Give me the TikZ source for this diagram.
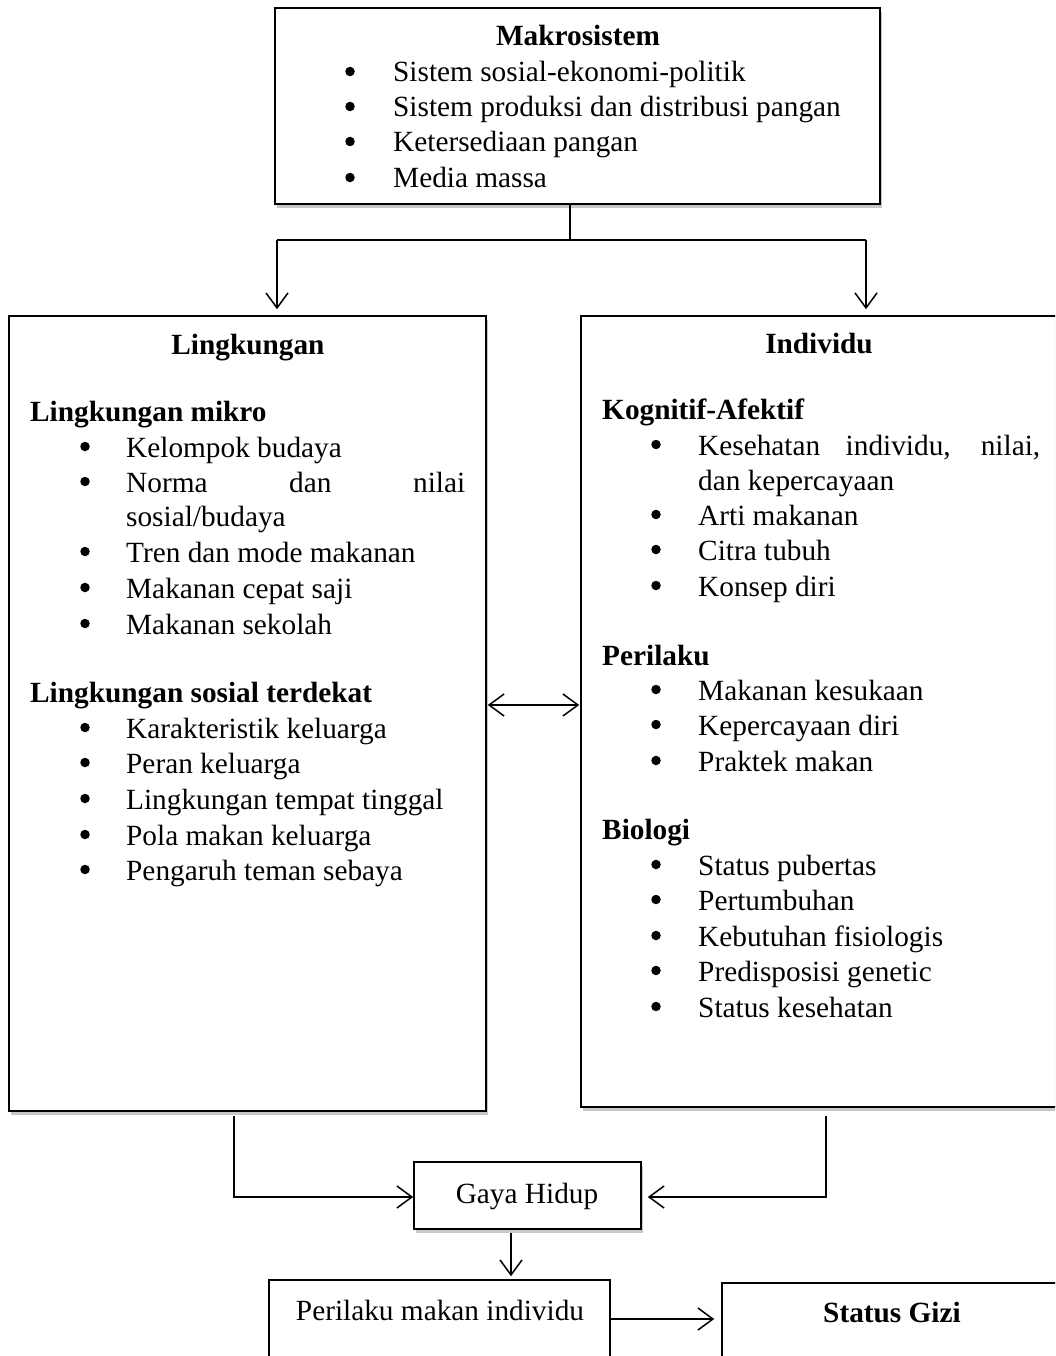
\documentclass[tikz,border=0pt]{standalone}
\usepackage{fontspec}
\setmainfont{Liberation Serif}
\usetikzlibrary{arrows.meta,shadows}
\tikzset{
  box/.style={draw, line width=1.6pt, fill=white, inner sep=0pt,
    drop shadow={shadow xshift=2pt, shadow yshift=-4pt, fill=black!22, opacity=1}},
  plainbox/.style={draw, line width=1.6pt, fill=white, inner sep=0pt},
  txt/.style={inner sep=0pt, anchor=base west, font=\fontsize{29.3}{35}\selectfont},
  ctxt/.style={inner sep=0pt, anchor=base, font=\fontsize{29.3}{35}\selectfont},
  bul/.style={circle, fill=black, inner sep=0pt, minimum size=9.5pt},
  hd/.style={txt, font=\fontsize{29.3}{35}\selectfont\bfseries},
  chd/.style={ctxt, font=\fontsize{29.3}{35}\selectfont\bfseries},
  con/.style={line width=1.5pt},
  arr/.style={con, -{Straight Barb[length=15pt,width=22pt,line width=1.5pt]}},
  darr/.style={con, {Straight Barb[length=15pt,width=22pt,line width=1.5pt]}-{Straight Barb[length=15pt,width=22pt,line width=1.5pt]}}
}
\newcommand\itm[5]{%
  \node[bul] (#1b) at ({#2},{#4-10.5}) {};
  \node[txt] (#1) at (#3,#4) {#5};}
\begin{document}
\begin{tikzpicture}[x=1pt,y=-1pt]
\clip (0,0) rectangle (1055,1356);
\fill[white] (0,0) rectangle (1055,1356);
% boxes
\node[box, minimum width=605pt, minimum height=196pt] (makro) at (577.5,106) {};
\node[box, minimum width=477pt, minimum height=795pt] (ling) at (247.5,713.5) {};
\node[box, minimum width=489pt, minimum height=791pt] (indiv) at (825.5,711.5) {};
\node[box, minimum width=227pt, minimum height=67pt] (gaya) at (527.5,1195.5) {};
\node[plainbox, minimum width=341pt, minimum height=100pt] (peril) at (439.5,1330) {};
\node[plainbox, minimum width=358pt, minimum height=107pt] (gizi) at (901,1336.5) {};

% Makrosistem text
\node[chd] (mk) at (578,46) {Makrosistem};
\itm{m1}{350}{393}{82}{Sistem sosial-ekonomi-politik}
\itm{m2}{350}{393}{117}{Sistem produksi dan distribusi pangan}
\itm{m3}{350}{393}{152}{Ketersediaan pangan}
\itm{m4}{350}{393}{188}{Media massa}

% Lingkungan text
\node[chd] (lt) at (248,354) {Lingkungan};
\node[hd] (lh1) at (30,421) {Lingkungan mikro};
\itm{l1}{85}{126}{457}{Kelompok budaya}
\itm{l2}{85}{126}{492}{\makebox[339pt][s]{Norma dan nilai}}
\node[txt] (l2b2) at (126,526) {sosial/budaya};
\itm{l3}{85}{126}{562}{Tren dan mode makanan}
\itm{l4}{85}{126}{598}{Makanan cepat saji}
\itm{l5}{85}{126}{634}{Makanan sekolah}
\node[hd] (lh2) at (30,702) {Lingkungan sosial terdekat};
\itm{l6}{85}{126}{738}{Karakteristik keluarga}
\itm{l7}{85}{126}{773}{Peran keluarga}
\itm{l8}{85}{126}{809}{Lingkungan tempat tinggal}
\itm{l9}{85}{126}{845}{Pola makan keluarga}
\itm{l10}{85}{126}{880}{Pengaruh teman sebaya}

% Individu text
\node[chd] (it) at (819,353) {Individu};
\node[hd] (ih1) at (602,419) {Kognitif-Afektif};
\itm{i1}{656}{698}{455}{\makebox[342pt][s]{Kesehatan individu, nilai,}}
\node[txt] (i1c) at (698,490) {dan kepercayaan};
\itm{i2}{656}{698}{525}{Arti makanan}
\itm{i3}{656}{698}{560}{Citra tubuh}
\itm{i4}{656}{698}{596}{Konsep diri}
\node[hd] (ih2) at (602,665) {Perilaku};
\itm{i5}{656}{698}{700}{Makanan kesukaan}
\itm{i6}{656}{698}{735}{Kepercayaan diri}
\itm{i7}{656}{698}{771}{Praktek makan}
\node[hd] (ih3) at (602,839) {Biologi};
\itm{i8}{656}{698}{875}{Status pubertas}
\itm{i9}{656}{698}{910}{Pertumbuhan}
\itm{i10}{656}{698}{946}{Kebutuhan fisiologis}
\itm{i11}{656}{698}{981}{Predisposisi genetic}
\itm{i12}{656}{698}{1017}{Status kesehatan}

% bottom texts
\node[ctxt] (gt) at (527,1203) {Gaya Hidup};
\node[ctxt] (pt) at (440,1320) {Perilaku makan individu};
\node[chd] (st) at (892,1322) {Status Gizi};

% connectors
\coordinate (j) at (570,240);
\coordinate (jl) at (277,240);
\coordinate (jr) at (866,240);
\draw[con] (makro.south -| j) -- (j);
\draw[con] (jl) -- (jr);
\draw[arr, shorten >=6pt] (jl) -- (jl |- ling.north);
\draw[arr, shorten >=6pt] (jr) -- (jr |- indiv.north);
\coordinate (ha) at (0,705);
\draw[darr, shorten <=1pt, shorten >=1pt] (ling.east |- ha) -- (indiv.west |- ha);
\coordinate (lb) at (234,1197);
\coordinate (rb) at (826,1197);
\draw[arr, shorten <=4pt] (lb |- ling.south) -- (lb) -- (gaya.west |- lb);
\draw[arr, shorten <=8pt, shorten >=6pt] (rb |- indiv.south) -- (rb) -- (gaya.east |- rb);
\coordinate (db) at (511,0);
\draw[arr, shorten <=3pt, shorten >=3pt] (db |- gaya.south) -- (db |- peril.north);
\coordinate (pb) at (0,1319);
\draw[arr, shorten >=7pt] (peril.east |- pb) -- (gizi.west |- pb);
\end{tikzpicture}
\end{document}
